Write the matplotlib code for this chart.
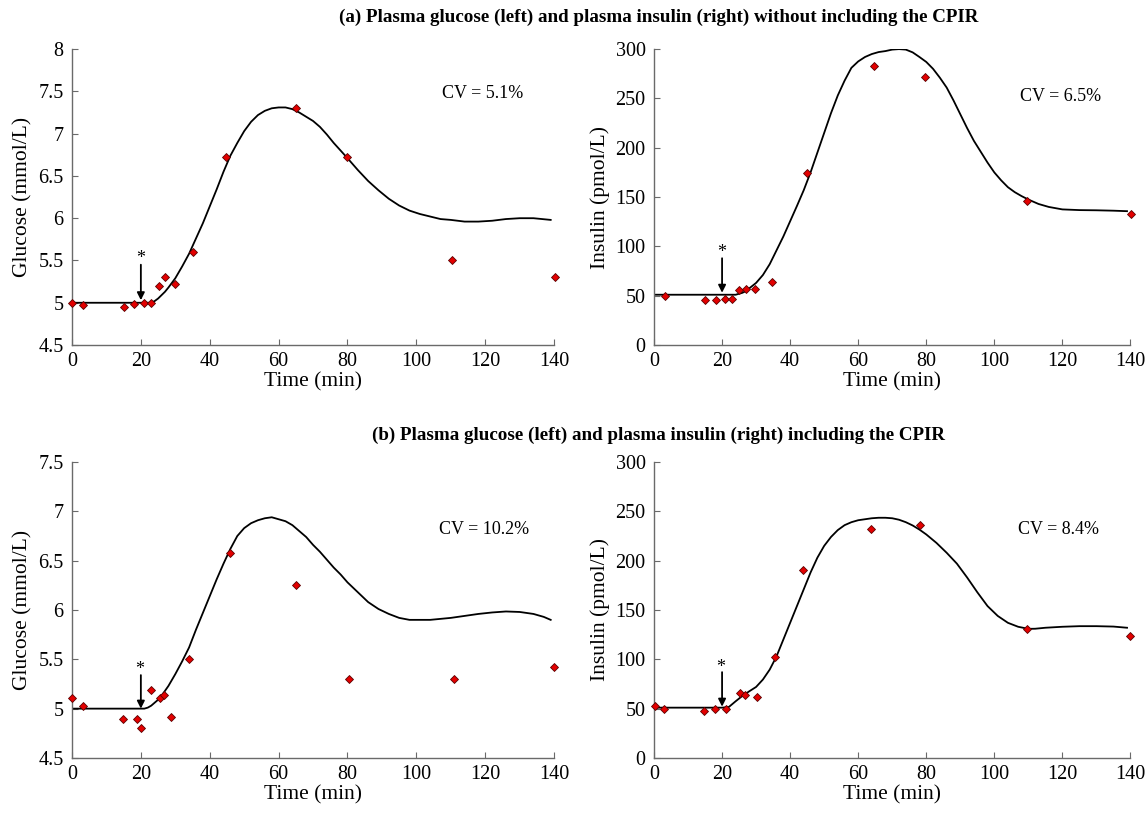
import matplotlib
matplotlib.use("Agg")
import matplotlib.pyplot as plt

plt.rcParams['font.family'] = ['Liberation Serif', 'DejaVu Serif']

# ---------------- data ----------------
# (a) glucose, without CPIR
a_glu_t = [0, 3.2, 15, 18.1, 21, 22.9, 25.2, 27, 29.8, 35, 44.7, 65, 80, 110.2, 140.2]
a_glu_y = [5.0, 4.97, 4.95, 4.99, 5.0, 5.0, 5.20, 5.31, 5.22, 5.60, 6.72, 7.30, 6.72, 5.51, 5.31]
a_glu_ct = [0, 10, 20, 22, 23, 24, 25, 26, 27, 28, 30, 32, 34, 36, 38, 40, 42, 44, 46, 48, 50,
            52, 54, 56, 58, 60, 62, 64, 66, 68, 70, 72, 74, 76, 78, 80, 83, 86, 89, 92, 95, 98,
            101, 104, 107, 110, 114, 118, 122, 126, 130, 134, 139]
a_glu_cy = [5.0, 5.0, 5.0, 5.0, 5.0, 5.02, 5.05, 5.09, 5.13, 5.18, 5.29, 5.43, 5.58, 5.76, 5.94,
            6.14, 6.34, 6.55, 6.74, 6.89, 7.03, 7.14, 7.22, 7.27, 7.30, 7.31, 7.31, 7.29, 7.25,
            7.20, 7.15, 7.08, 6.99, 6.89, 6.80, 6.71, 6.57, 6.44, 6.33, 6.23, 6.15, 6.09, 6.05,
            6.02, 5.99, 5.98, 5.96, 5.96, 5.97, 5.99, 6.00, 6.00, 5.98]

# (a) insulin, without CPIR
a_ins_t = [3.1, 14.9, 18.1, 21, 22.8, 24.9, 27.1, 29.8, 34.8, 45, 64.7, 79.6, 109.7, 140.1]
a_ins_y = [49.6, 45.2, 45.2, 46.9, 46.9, 55.7, 56.7, 56.7, 63.4, 174.5, 282.8, 271.3, 145.8, 133]
a_ins_ct = [0, 10, 20, 24, 25, 26, 27, 28, 30, 32, 34, 36, 38, 40, 42, 44, 46, 48, 50, 52, 54,
            56, 58, 60, 62, 64, 66, 68, 70, 72, 74, 76, 78, 80, 82, 84, 86, 88, 90, 92, 94, 96,
            98, 100, 102, 104, 106, 108, 110, 113, 116, 120, 125, 130, 135, 139]
a_ins_cy = [51, 51, 51, 51, 52, 53, 54.7, 57.5, 63, 71, 82, 96, 110, 125.5, 141, 157, 175, 195,
            215, 235, 253, 268, 281, 287.5, 292, 295, 297, 298, 299.5, 300, 299.5, 296.7, 292,
            287, 280, 271, 261, 248, 234, 220, 207, 196, 185, 175, 167, 160, 155, 151, 147.5,
            143, 140, 137.5, 136.8, 136.6, 136.2, 135.7]

# (b) glucose, including CPIR
b_glu_t = [0.1, 3.3, 14.9, 18.9, 20, 22.9, 25.7, 26.6, 28.8, 34, 45.8, 65.1, 80.4, 111, 140]
b_glu_y = [5.11, 5.03, 4.90, 4.90, 4.80, 5.19, 5.11, 5.14, 4.92, 5.50, 6.58, 6.25, 5.30, 5.30, 5.42]
b_glu_ct = [0, 10, 21, 22, 23, 24, 25, 26, 27, 28, 30, 32, 34, 36, 38, 40, 42, 44, 46, 48, 50,
            52, 54, 56, 58, 60, 62, 64, 66, 68, 70, 72, 74, 76, 78, 80, 83, 86, 89, 92, 95, 98,
            101, 104, 107, 110, 114, 118, 122, 126, 130, 134, 137, 139]
b_glu_cy = [5.0, 5.0, 5.0, 5.01, 5.03, 5.06, 5.09, 5.13, 5.18, 5.23, 5.35, 5.48, 5.62, 5.80,
            5.97, 6.14, 6.31, 6.47, 6.62, 6.75, 6.83, 6.88, 6.91, 6.93, 6.94, 6.92, 6.90, 6.86,
            6.80, 6.74, 6.66, 6.59, 6.51, 6.43, 6.36, 6.28, 6.18, 6.08, 6.01, 5.96, 5.92, 5.90,
            5.90, 5.90, 5.91, 5.92, 5.94, 5.96, 5.975, 5.985, 5.98, 5.96, 5.93, 5.90]

# (b) insulin, including CPIR
b_ins_t = [0.2, 2.9, 14.6, 17.8, 21.2, 25.2, 26.8, 30.4, 35.6, 43.8, 63.9, 78.3, 109.5, 140]
b_ins_y = [53.1, 50, 48, 49.7, 49.7, 66.3, 63.6, 61.9, 102.8, 190.7, 232.3, 235.7, 130.5, 123.4]
b_ins_ct = [0, 10, 20, 22, 24, 26, 28, 30, 32, 34, 36, 38, 40, 42, 44, 46, 48, 50, 52, 54, 56,
            58, 60, 62, 64, 66, 68, 70, 72, 74, 76, 78, 80, 83, 86, 89, 92, 95, 98, 101, 104,
            107, 110, 112, 115, 120, 125, 130, 135, 139]
b_ins_cy = [51, 51, 51, 51.7, 57.5, 63, 67.6, 72, 79.5, 89.6, 103, 120, 137, 154, 171, 188,
            203, 215, 224, 231, 236, 239, 241, 242, 243, 243.5, 243.5, 243, 241.5, 239, 235.7,
            231.5, 226.6, 218, 208, 197, 183, 168, 154, 144, 137, 133, 130.9, 131, 132, 133,
            133.6, 133.6, 133.2, 132]

cv_texts = ["CV = 5.1%", "CV = 6.5%", "CV = 10.2%", "CV = 8.4%"]
titles = ["(a) Plasma glucose (left) and plasma insulin (right) without including the CPIR",
          "(b) Plasma glucose (left) and plasma insulin (right) including the CPIR"]
x_ticks = [0, 20, 40, 60, 80, 100, 120, 140]

# ---------------- figure ----------------
fig = plt.figure(figsize=(11.48, 8.13), dpi=100)

W = 0.420
H = 0.364
positions = [
    (0.0627, 0.5756, W, H),
    (0.5697, 0.5756, W - 0.005, H),
    (0.0627, 0.0677, W, H),
    (0.5697, 0.0677, W - 0.005, H),
]

panels = [
    dict(t=a_glu_t, y=a_glu_y, ct=a_glu_ct, cy=a_glu_cy, ylim=(4.5, 8),
         yticks=[4.5, 5, 5.5, 6, 6.5, 7, 7.5, 8], ylabel="Glucose (mmol/L)",
         star=(19.8, 5.52), arrow=(5.45, 5.03), cv=(119.3, 7.48)),
    dict(t=a_ins_t, y=a_ins_y, ct=a_ins_ct, cy=a_ins_cy, ylim=(0, 300),
         yticks=[0, 50, 100, 150, 200, 250, 300], ylabel="Insulin (pmol/L)",
         star=(19.8, 94), arrow=(88, 53), cv=(119.5, 252)),
    dict(t=b_glu_t, y=b_glu_y, ct=b_glu_ct, cy=b_glu_cy, ylim=(4.5, 7.5),
         yticks=[4.5, 5, 5.5, 6, 6.5, 7, 7.5], ylabel="Glucose (mmol/L)",
         star=(19.6, 5.40), arrow=(5.34, 5.0), cv=(119.6, 6.82)),
    dict(t=b_ins_t, y=b_ins_y, ct=b_ins_ct, cy=b_ins_cy, ylim=(0, 300),
         yticks=[0, 50, 100, 150, 200, 250, 300], ylabel="Insulin (pmol/L)",
         star=(19.5, 92), arrow=(87, 52), cv=(118.9, 232)),
]

spine_col = '#6a6a6a'
for i, p in enumerate(panels):
    ax = fig.add_axes(positions[i])
    ax.plot(p['ct'], p['cy'], color='black', lw=1.3, zorder=2)
    ax.plot(p['t'], p['y'], linestyle='none', marker='D', markersize=4.0,
            markerfacecolor='#e30000', markeredgecolor='#5a0000', markeredgewidth=0.6,
            clip_on=False, zorder=3)
    ax.set_xlim(0, 140)
    ax.set_ylim(*p['ylim'])
    ax.set_xticks(x_ticks)
    ax.set_yticks(p['yticks'])
    ax.set_yticklabels([('%g' % v) for v in p['yticks']])
    for s in ['top', 'right']:
        ax.spines[s].set_visible(False)
    for s in ['left', 'bottom']:
        ax.spines[s].set_color(spine_col)
        ax.spines[s].set_linewidth(1.0)
    ax.tick_params(direction='in', length=4, width=0.8, color=spine_col,
                   labelsize=14.5)
    ax.tick_params(axis='x', pad=5)
    ax.tick_params(axis='y', pad=6)
    ax.set_xlabel("Time (min)", fontsize=15.5, labelpad=1)
    ax.set_ylabel(p['ylabel'], fontsize=15.5, labelpad=4)
    sx, sy = p['star']
    ax.text(sx, sy, "*", ha='center', va='center', fontsize=13)
    a0, a1 = p['arrow']
    ax.annotate('', xy=(20, a1), xytext=(20, a0),
                arrowprops=dict(arrowstyle='-|>', color='black', lw=1.3,
                                mutation_scale=11, shrinkA=0, shrinkB=0))
    cx, cy = p['cv']
    ax.text(cx, cy, cv_texts[i], ha='center', va='center', fontsize=13)

fig.text(0.574, 0.979, titles[0], ha='center', va='center', fontsize=13.7, fontweight='bold')
fig.text(0.574, 0.465, titles[1], ha='center', va='center', fontsize=13.7, fontweight='bold')

fig.savefig("out.png", dpi=100)
